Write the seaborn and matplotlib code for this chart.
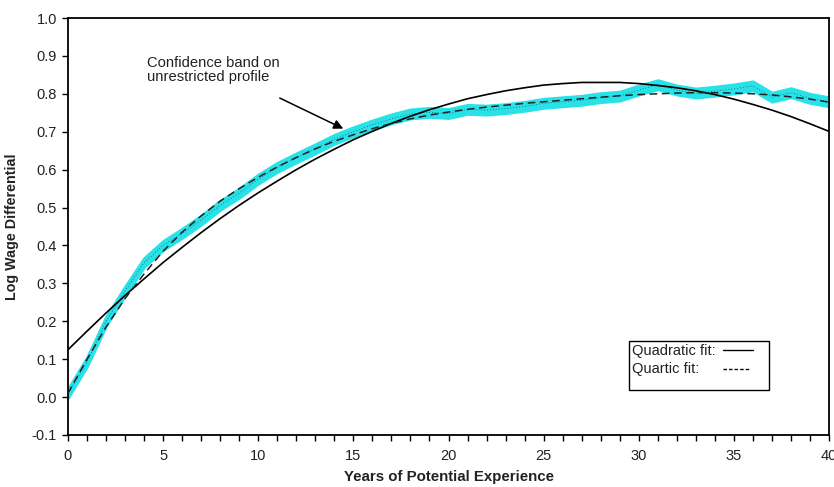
import numpy as np
import pandas as pd
import matplotlib
matplotlib.use("Agg")
import matplotlib.pyplot as plt
import seaborn as sns
from matplotlib.patches import Rectangle

years = list(range(0, 41))
profile = [0.01, 0.093, 0.20, 0.28, 0.355, 0.40, 0.432, 0.467, 0.506, 0.538,
           0.575, 0.606, 0.631, 0.655, 0.68, 0.70, 0.718, 0.734, 0.747, 0.751,
           0.748, 0.759, 0.757, 0.761, 0.767, 0.775, 0.779, 0.783, 0.79, 0.794,
           0.81, 0.824, 0.81, 0.802, 0.807, 0.813, 0.821, 0.791, 0.803, 0.788, 0.779]
band_halfwidth = [0.012] * 41
quadratic = [0.125, 0.174, 0.222, 0.268, 0.312, 0.355, 0.395, 0.434, 0.471, 0.506,
             0.539, 0.570, 0.600, 0.628, 0.654, 0.679, 0.701, 0.722, 0.741, 0.758,
             0.773, 0.787, 0.798, 0.808, 0.816, 0.823, 0.827, 0.830, 0.830, 0.830,
             0.827, 0.822, 0.816, 0.808, 0.798, 0.786, 0.772, 0.757, 0.740, 0.721, 0.701]
quartic = [0.01, 0.10, 0.185, 0.26, 0.325, 0.385, 0.435, 0.478, 0.517, 0.55,
           0.58, 0.607, 0.632, 0.655, 0.675, 0.692, 0.708, 0.722, 0.734, 0.744,
           0.752, 0.759, 0.765, 0.77, 0.775, 0.779, 0.783, 0.787, 0.791, 0.795,
           0.798, 0.80, 0.802, 0.803, 0.803, 0.802, 0.80, 0.797, 0.792, 0.786, 0.778]
y_ticks = [-0.1, 0.0, 0.1, 0.2, 0.3, 0.4, 0.5, 0.6, 0.7, 0.8, 0.9, 1.0]
x_major = [0, 5, 10, 15, 20, 25, 30, 35, 40]

sns.set_style("ticks")
plt.rcParams['font.family'] = ['Liberation Sans', 'DejaVu Sans']

df = pd.DataFrame({"x": years, "profile": profile, "hw": band_halfwidth,
                   "quadratic": quadratic, "quartic": quartic})

fig = plt.figure(figsize=(8.34, 4.87), dpi=100)
ax = fig.add_axes([68/834, 1-435/487, (829-68)/834, (435-18)/487])

ax.fill_between(df["x"], df["profile"] - df["hw"], df["profile"] + df["hw"],
                color="#28e2e8", linewidth=2.0, edgecolor="#28e2e8", zorder=2)
sns.lineplot(data=df, x="x", y="profile", ax=ax, color="#0b5f66", linewidth=0.6,
             linestyle=(0, (1, 2.5)), zorder=3)
sns.lineplot(data=df, x="x", y="quadratic", ax=ax, color="black", linewidth=1.2, zorder=4)
sns.lineplot(data=df, x="x", y="quartic", ax=ax, color="#222222", linewidth=1.1,
             linestyle=(0, (5, 3)), zorder=5)

ax.set_xlim(0, 40)
ax.set_ylim(-0.1, 1.0)
ax.set_yticks(y_ticks)
ax.set_yticklabels([f"{v:.1f}" for v in y_ticks])
ax.set_xticks(list(range(0, 41)))
ax.set_xticklabels([str(v) if v in x_major else "" for v in range(0, 41)])
ax.tick_params(axis="both", direction="out", length=4, width=1, labelsize=10.5,
               colors="black", labelcolor="#222222", pad=4)
ax.tick_params(axis="x", pad=6)
for s in ax.spines.values():
    s.set_linewidth(1.3)
    s.set_color("black")

ax.set_xlabel("Years of Potential Experience", fontsize=10.8, fontweight="bold",
              labelpad=5, color="#222222")
ax.set_ylabel("Log Wage Differential", fontsize=10.3, fontweight="bold",
              labelpad=9, color="#222222")

ax.annotate("", xy=(14.6, 0.705), xytext=(11.0, 0.792),
            arrowprops=dict(arrowstyle="-|>", color="black", lw=1.1, mutation_scale=14))
ax.text(4.15, 0.9, "Confidence band on\nunrestricted profile", fontsize=10.6,
        va="top", ha="left", color="#222222", linespacing=1.05)

# legend box
lx0, lx1 = (629-68)/761, (769-68)/761
ly0, ly1 = (435-390)/417, (435-341)/417
ax.add_patch(Rectangle((lx0, ly0), lx1-lx0, ly1-ly0, transform=ax.transAxes,
                       fill=True, facecolor="white", edgecolor="black", lw=1.0, zorder=6))
tx = (632-68)/761
ax.text(tx, (435-351)/417, "Quadratic fit:", transform=ax.transAxes, fontsize=10.5,
        va="center", ha="left", zorder=7, color="#222222")
ax.text(tx, (435-369)/417, "Quartic fit:", transform=ax.transAxes, fontsize=10.5,
        va="center", ha="left", zorder=7, color="#222222")
ax.plot([(723-68)/761, (753-68)/761], [(435-350)/417]*2, transform=ax.transAxes,
        color="black", lw=1.0, zorder=7)
ax.plot([(723-68)/761, (749-68)/761], [(435-369)/417]*2, transform=ax.transAxes,
        color="black", lw=1.0, linestyle=(0, (2.5, 1.5)), zorder=7)

fig.savefig("out.png", dpi=100)
